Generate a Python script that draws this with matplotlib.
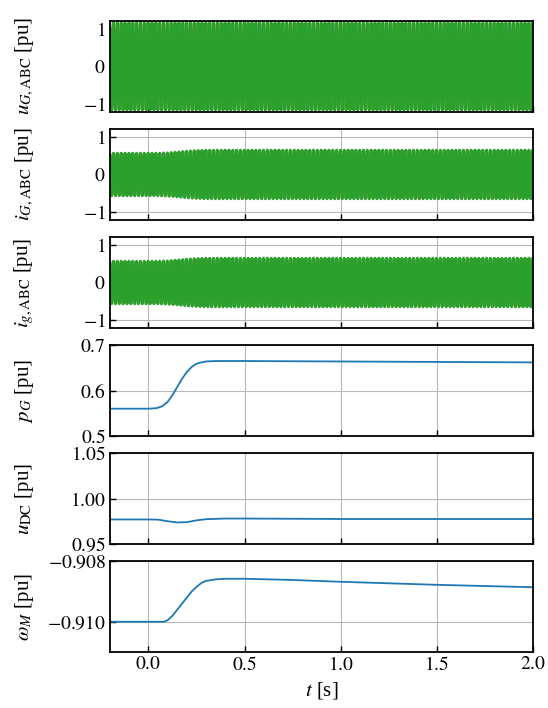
import numpy as np
import matplotlib
matplotlib.use("Agg")
import matplotlib.pyplot as plt
from matplotlib.ticker import MultipleLocator, FuncFormatter

plt.rcParams['font.family'] = ['Liberation Serif', 'DejaVu Serif']
plt.rcParams['mathtext.fontset'] = 'stix'
plt.rcParams['font.size'] = 15

# -------------------------------
# datos
f_red = 50.0                      # frecuencia de la red [Hz]
t_min, t_max = -0.2, 2.0

# envolventes de las senales trifasicas
t_env = [-0.2, 0.05, 0.1, 0.15, 0.2, 0.25, 0.3, 2.0]
amp_uG = [1.15, 1.15, 1.15, 1.15, 1.15, 1.15, 1.15, 1.15]
amp_iG = [0.56, 0.56, 0.57, 0.59, 0.615, 0.63, 0.64, 0.64]
amp_ig = [0.56, 0.56, 0.57, 0.59, 0.615, 0.63, 0.64, 0.64]

# potencia activa
t_p = [-0.2, 0.0, 0.04, 0.07, 0.1, 0.125, 0.15, 0.175, 0.2, 0.225, 0.25,
       0.275, 0.3, 0.35, 0.4, 0.5, 1.0, 1.5, 2.0]
p_G = [0.56, 0.56, 0.561, 0.565, 0.575, 0.59, 0.608, 0.626, 0.641, 0.652,
       0.659, 0.662, 0.664, 0.665, 0.665, 0.665, 0.664, 0.663, 0.662]

# tension del bus DC
t_dc = [-0.2, 0.0, 0.05, 0.1, 0.15, 0.2, 0.25, 0.3, 0.4, 0.5, 1.0, 1.5, 2.0]
u_DC = [0.977, 0.977, 0.9768, 0.975, 0.9737, 0.974, 0.976, 0.9773, 0.978,
        0.978, 0.9775, 0.9775, 0.9775]

# velocidad mecanica
t_w = [-0.2, 0.0, 0.08, 0.1, 0.125, 0.15, 0.175, 0.2, 0.225, 0.25, 0.275,
       0.3, 0.35, 0.4, 0.5, 0.75, 1.0, 1.25, 1.5, 1.75, 2.0]
w_M = [-0.910, -0.910, -0.910, -0.90995, -0.9098, -0.9096, -0.9094, -0.9092,
       -0.9090, -0.90885, -0.90872, -0.90865, -0.9086, -0.90858, -0.90858,
       -0.90862, -0.90868, -0.90873, -0.90878, -0.90882, -0.90886]

etiquetas = [r'$u_{G,\mathrm{ABC}}$ [pu]', r'$i_{G,\mathrm{ABC}}$ [pu]',
             r'$i_{g,\mathrm{ABC}}$ [pu]', r'$p_G$ [pu]',
             r'$u_{\mathrm{DC}}$ [pu]', r'$\omega_M$ [pu]']
x_ticks = [0.0, 0.5, 1.0, 1.5, 2.0]

colores_fase = ['#1f77b4', '#ff7f0e', '#2ca02c']
anchos_fase = [0.3, 0.3, 2.2]


def formato(dec):
    # etiquetas con el signo menos largo de mathtext
    return FuncFormatter(lambda v, pos: f'${v:.{dec}f}$')


def trifasica(ax, amplitudes):
    t = np.linspace(t_min, t_max, 44001)
    amp = np.interp(t, t_env, amplitudes)
    for k, c in enumerate(colores_fase):
        ax.plot(t, amp * np.sin(2 * np.pi * f_red * t - k * 2 * np.pi / 3),
                color=c, lw=anchos_fase[k])


fig, axs = plt.subplots(6, 1, sharex=True, figsize=(5.48, 7.08), dpi=100)
fig.subplots_adjust(left=0.2007, right=0.9726, top=0.9703, bottom=0.0791,
                    hspace=0.19)

trifasica(axs[0], amp_uG)
trifasica(axs[1], amp_iG)
trifasica(axs[2], amp_ig)
for ax in axs[:3]:
    ax.set_ylim(-1.2, 1.2)
    ax.set_yticks([-1, 0, 1])
    ax.yaxis.set_major_formatter(formato(0))

axs[3].plot(t_p, p_G, color='#1f77b4', lw=1.3)
axs[3].set_ylim(0.5, 0.7)
axs[3].yaxis.set_major_locator(MultipleLocator(0.1))
axs[3].yaxis.set_major_formatter(formato(1))

axs[4].plot(t_dc, u_DC, color='#1f77b4', lw=1.3)
axs[4].set_ylim(0.95, 1.05)
axs[4].yaxis.set_major_locator(MultipleLocator(0.05))
axs[4].yaxis.set_major_formatter(formato(2))

axs[5].plot(t_w, w_M, color='#1f77b4', lw=1.3)
axs[5].set_ylim(-0.911, -0.908)
axs[5].set_yticks([-0.910, -0.908])
axs[5].yaxis.set_major_formatter(formato(3))

for ax, lab in zip(axs, etiquetas):
    ax.set_xlim(t_min, t_max)
    ax.set_xticks(x_ticks)
    ax.grid(True, color='#b8b8b8', lw=0.8)
    ax.set_axisbelow(True)
    ax.tick_params(direction='in', length=4, width=1, pad=3, labelsize=14)
    for s in ax.spines.values():
        s.set_linewidth(1.3)
    ax.set_ylabel(lab)
    ax.yaxis.set_label_coords(-0.175, 0.5)

axs[5].xaxis.set_major_formatter(formato(1))
axs[5].set_xlabel(r'$t$ [s]')

fig.savefig('out.png', dpi=100)
